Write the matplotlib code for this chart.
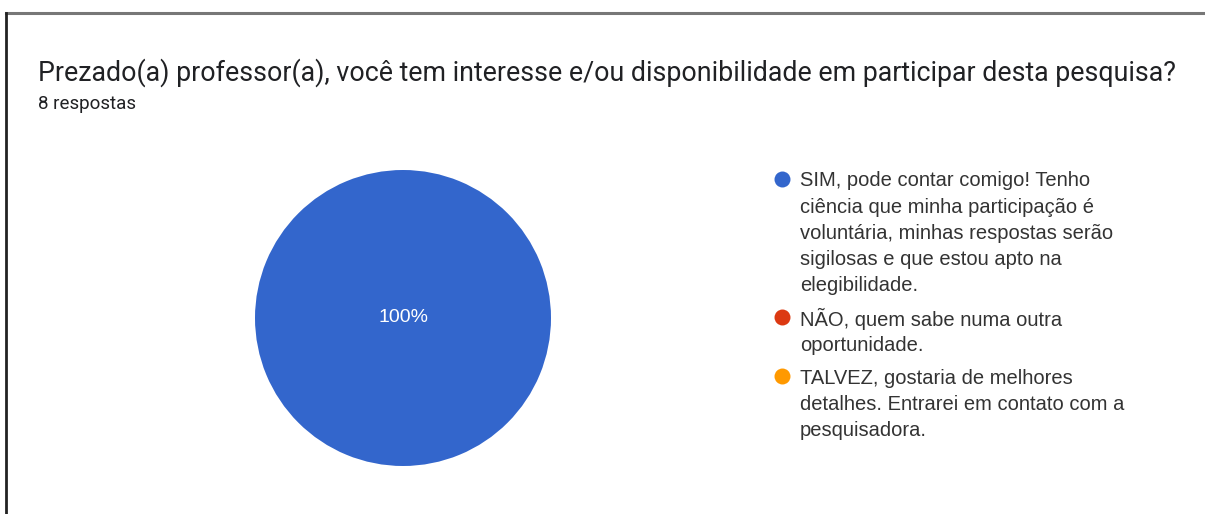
import matplotlib
matplotlib.use("Agg")
import matplotlib.pyplot as plt
from matplotlib.lines import Line2D

title = "Prezado(a) professor(a), você tem interesse e/ou disponibilidade em participar desta pesquisa?"
subtitle = "8 respostas"
labels = [
    "SIM, pode contar comigo! Tenho\nciência que minha participação é\nvoluntária, minhas respostas serão\nsigilosas e que estou apto na\nelegibilidade.",
    "NÃO, quem sabe numa outra\noportunidade.",
    "TALVEZ, gostaria de melhores\ndetalhes. Entrarei em contato com a\npesquisadora.",
]
counts = [8, 0, 0]
colors = ["#3366cc", "#dc3912", "#ff9900"]

W, H = 1205, 514
fig = plt.figure(figsize=(W / 100, H / 100), dpi=100)
fig.patch.set_facecolor("white")

def fx(px):
    return px / W

def fy(py):
    return 1 - py / H

# card border: grey top edge, dark left edge
fig.add_artist(Line2D([fx(6), fx(1203)], [fy(12.5)] * 2, color="#777777", lw=2.2))
fig.add_artist(Line2D([fx(6)] * 2, [0, fy(12.5)], color="#222222", lw=2))

fig.text(fx(38), fy(73), title, fontsize=19.3, family="Roboto",
         color="#202124", va="center", ha="left")
fig.text(fx(38), fy(104), subtitle, fontsize=13.5, family="Roboto",
         color="#202124", va="center", ha="left")

# pie
cx, cy, r = 403, 318, 148
ax = fig.add_axes([fx(cx - r), fy(cy + r), 2 * r / W, 2 * r / H])
shown = [(c, col) for c, col in zip(counts, colors) if c > 0]
ax.pie([c for c, _ in shown], colors=[col for _, col in shown],
       startangle=90, counterclock=False, radius=1.0,
       autopct=lambda p: f"{p:.0f}%", pctdistance=0.0,
       textprops=dict(color="white", fontsize=14, family="Liberation Sans"),
       wedgeprops=dict(linewidth=0))
ax.set_xlim(-1, 1)
ax.set_ylim(-1, 1)
ax.set_aspect("equal")
ax.axis("off")

# legend, one wrapped entry per answer
line_h = 26.2
y = 179
for lab, col in zip(labels, colors):
    fig.add_artist(Line2D([fx(782)], [fy(y)], marker="o", markersize=11.5,
                          markerfacecolor=col, markeredgewidth=0, linestyle="none"))
    for line in lab.split("\n"):
        fig.text(fx(800), fy(y), line, fontsize=14.5, family="Liberation Sans",
                 color="#333333", va="center_baseline", ha="left")
        y += line_h
    y += 7

fig.savefig("out.png", dpi=100, facecolor="white")
